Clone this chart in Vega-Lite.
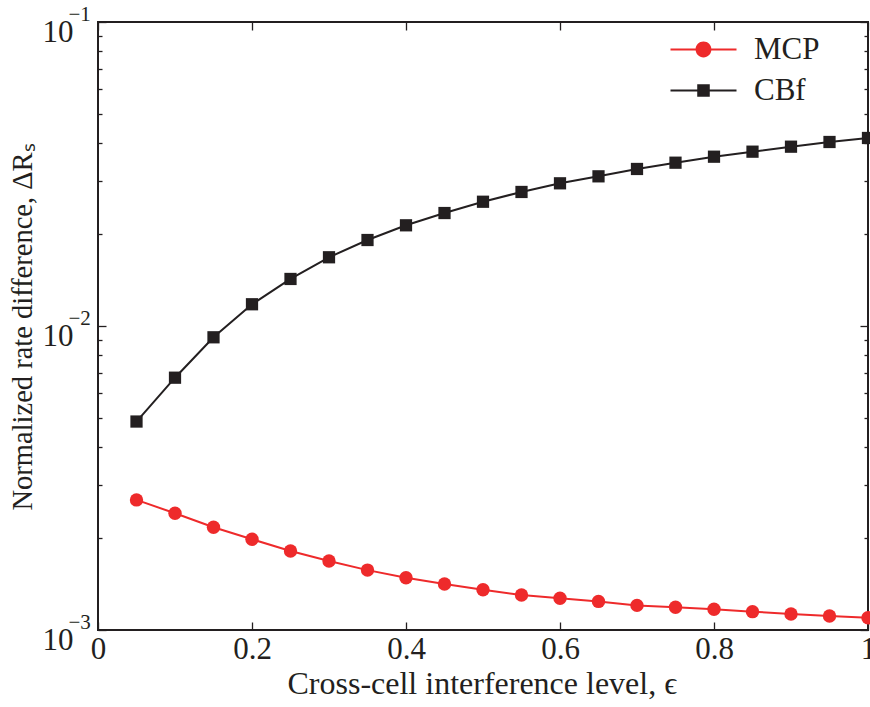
{
  "$schema": "https://vega.github.io/schema/vega-lite/v6.json",
  "width": 770,
  "height": 608,
  "autosize": "none",
  "padding": {"left": 98, "top": 22, "right": 2, "bottom": 77},
  "background": "white",
  "config": {
    "view": {"stroke": "#231f20", "strokeWidth": 2},
    "axis": {"domain": false, "grid": false, "labelFont": "Liberation Serif", "titleFont": "Liberation Serif", "labelColor": "#231f20", "titleColor": "#231f20", "tickColor": "#231f20", "labelFontSize": 31, "titleFontSize": 32, "titleFontWeight": "normal", "tickWidth": 1.3}
  },
  "data": {"values": [
    {"eps": 0.05, "series": "MCP", "value": 0.002679},
    {"eps": 0.10, "series": "MCP", "value": 0.002421},
    {"eps": 0.15, "series": "MCP", "value": 0.002177},
    {"eps": 0.20, "series": "MCP", "value": 0.001988},
    {"eps": 0.25, "series": "MCP", "value": 0.001820},
    {"eps": 0.30, "series": "MCP", "value": 0.001686},
    {"eps": 0.35, "series": "MCP", "value": 0.001574},
    {"eps": 0.40, "series": "MCP", "value": 0.001485},
    {"eps": 0.45, "series": "MCP", "value": 0.001417},
    {"eps": 0.50, "series": "MCP", "value": 0.001357},
    {"eps": 0.55, "series": "MCP", "value": 0.001303},
    {"eps": 0.60, "series": "MCP", "value": 0.001272},
    {"eps": 0.65, "series": "MCP", "value": 0.001242},
    {"eps": 0.70, "series": "MCP", "value": 0.001205},
    {"eps": 0.75, "series": "MCP", "value": 0.001188},
    {"eps": 0.80, "series": "MCP", "value": 0.001170},
    {"eps": 0.85, "series": "MCP", "value": 0.001149},
    {"eps": 0.90, "series": "MCP", "value": 0.001129},
    {"eps": 0.95, "series": "MCP", "value": 0.001112},
    {"eps": 1.00, "series": "MCP", "value": 0.001097},
    {"eps": 0.05, "series": "CBf", "value": 0.00485},
    {"eps": 0.10, "series": "CBf", "value": 0.00676},
    {"eps": 0.15, "series": "CBf", "value": 0.00918},
    {"eps": 0.20, "series": "CBf", "value": 0.01179},
    {"eps": 0.25, "series": "CBf", "value": 0.01428},
    {"eps": 0.30, "series": "CBf", "value": 0.01683},
    {"eps": 0.35, "series": "CBf", "value": 0.01918},
    {"eps": 0.40, "series": "CBf", "value": 0.02144},
    {"eps": 0.45, "series": "CBf", "value": 0.02353},
    {"eps": 0.50, "series": "CBf", "value": 0.02563},
    {"eps": 0.55, "series": "CBf", "value": 0.02760},
    {"eps": 0.60, "series": "CBf", "value": 0.02947},
    {"eps": 0.65, "series": "CBf", "value": 0.03107},
    {"eps": 0.70, "series": "CBf", "value": 0.03285},
    {"eps": 0.75, "series": "CBf", "value": 0.03445},
    {"eps": 0.80, "series": "CBf", "value": 0.03605},
    {"eps": 0.85, "series": "CBf", "value": 0.03745},
    {"eps": 0.90, "series": "CBf", "value": 0.03889},
    {"eps": 0.95, "series": "CBf", "value": 0.04030},
    {"eps": 1.00, "series": "CBf", "value": 0.04154}
  ]},
  "resolve": {"axis": {"x": "independent", "y": "independent"}},
  "layer": [
    {
      "mark": {"type": "line", "strokeWidth": 2},
      "encoding": {
        "x": {"field": "eps", "type": "quantitative", "scale": {"domain": [0, 1], "nice": false, "zero": false},
          "axis": {"orient": "bottom", "values": [0, 0.2, 0.4, 0.6, 0.8, 1], "labelExpr": "datum.value == 0 ? '0' : datum.value == 1 ? '1' : format(datum.value, '.1f')", "tickSize": -8, "labelPadding": 36, "labelBaseline": "alphabetic", "labelFlush": false, "title": "Cross-cell interference level, ϵ", "titleX": 189, "titleY": 63, "titleAlign": "left", "titleBaseline": "alphabetic"}},
        "y": {"field": "value", "type": "quantitative", "scale": {"type": "log", "domain": [0.001, 0.1], "nice": false},
          "axis": {"orient": "left", "values": [0.001, 0.01, 0.1], "labelExpr": "'10'", "tickSize": -8, "labelPadding": 33, "labelAlign": "right", "labelBaseline": "alphabetic", "labelOffset": 19, "labelFlush": false, "title": "Normalized rate difference, ΔRₛ", "titleFontSize": 28.5, "titleX": -67, "titleY": 488, "titleAngle": -90, "titleAlign": "left", "titleBaseline": "alphabetic"}},
        "color": {"field": "series", "type": "nominal", "scale": {"domain": ["MCP", "CBf"], "range": ["#ee2a2b", "#231f20"]},
          "legend": {"orient": "none", "legendX": 590, "legendY": 12, "title": null, "padding": 0, "labelFont": "Liberation Serif", "labelFontSize": 31, "labelColor": "#231f20", "symbolSize": 484, "labelOffset": 35, "rowPadding": 9, "symbolStrokeWidth": 0,
            "encode": {"symbols": {"update": {
              "shape": {"signal": "datum.value === 'MCP' ? 'M-3,-0.09H3V0.09H-3Z M-0.72,0A0.72,0.72 0 1,1 0.72,0A0.72,0.72 0 1,1 -0.72,0Z' : 'M-3,-0.09H3V0.09H-3Z M-0.57,-0.57H0.57V0.57H-0.57Z'"},
              "fill": {"signal": "datum.value === 'MCP' ? '#ee2a2b' : '#231f20'"},
              "size": {"value": 484},
              "fillOpacity": {"value": 1},
              "opacity": {"value": 1},
              "strokeWidth": {"value": 0}
            }}}}}
      }
    },
    {
      "transform": [{"filter": "datum.series === 'MCP'"}],
      "mark": {"type": "point", "filled": true, "opacity": 1, "shape": "circle", "size": 180},
      "encoding": {
        "x": {"field": "eps", "type": "quantitative", "axis": {"orient": "top", "values": [0, 0.2, 0.4, 0.6, 0.8, 1], "labels": false, "tickSize": -8, "title": null}},
        "y": {"field": "value", "type": "quantitative", "scale": {"type": "log"},
          "axis": {"orient": "left", "values": [0.001, 0.01, 0.1], "labelExpr": "datum.value == 0.001 ? '−3' : datum.value == 0.01 ? '−2' : '−1'", "ticks": false, "labelPadding": 30, "labelAlign": "left", "labelBaseline": "alphabetic", "labelOffset": -1.5, "labelFontSize": 21, "labelFlush": false, "title": null}},
        "color": {"field": "series", "type": "nominal"}
      }
    },
    {
      "transform": [{"filter": "datum.series === 'CBf'"}],
      "mark": {"type": "point", "filled": true, "opacity": 1, "shape": "square", "size": 150},
      "encoding": {
        "x": {"field": "eps", "type": "quantitative", "axis": null},
        "y": {"field": "value", "type": "quantitative", "scale": {"type": "log"},
          "axis": {"orient": "left", "values": [0.002, 0.003, 0.004, 0.005, 0.006, 0.007, 0.008, 0.009, 0.02, 0.03, 0.04, 0.05, 0.06, 0.07, 0.08, 0.09], "labels": false, "tickSize": -4, "title": null}},
        "color": {"field": "series", "type": "nominal"}
      }
    },
    {
      "mark": {"type": "point", "opacity": 0},
      "encoding": {
        "x": {"field": "eps", "type": "quantitative", "axis": null},
        "y": {"field": "value", "type": "quantitative", "scale": {"type": "log"},
          "axis": {"orient": "right", "values": [0.001, 0.01, 0.1], "labels": false, "tickSize": -8, "title": null}}
      }
    },
    {
      "mark": {"type": "point", "opacity": 0},
      "encoding": {
        "x": {"field": "eps", "type": "quantitative", "axis": null},
        "y": {"field": "value", "type": "quantitative", "scale": {"type": "log"},
          "axis": {"orient": "right", "values": [0.002, 0.003, 0.004, 0.005, 0.006, 0.007, 0.008, 0.009, 0.02, 0.03, 0.04, 0.05, 0.06, 0.07, 0.08, 0.09], "labels": false, "tickSize": -4, "title": null}}
      }
    }
  ]
}
